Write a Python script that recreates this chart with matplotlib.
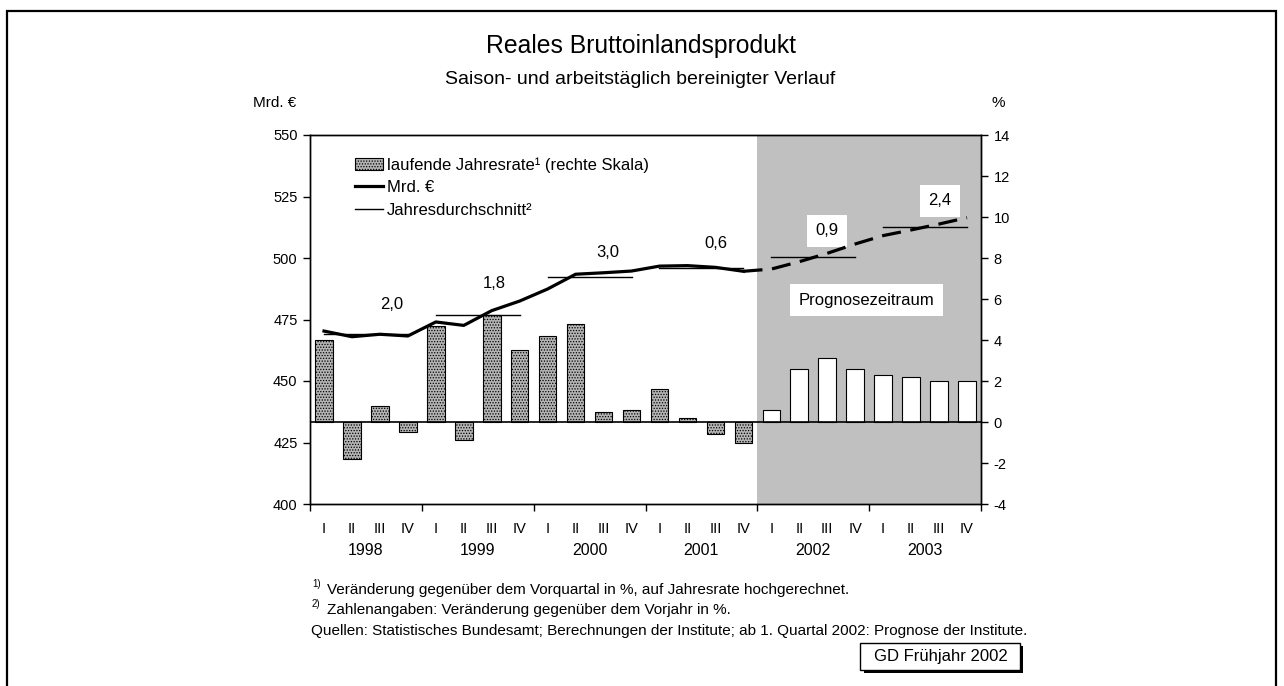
import numpy as np
import matplotlib.pyplot as plt
from matplotlib.patches import Rectangle, Patch
from matplotlib.lines import Line2D

plt.rcParams['font.family'] = ['Liberation Sans', 'DejaVu Sans']
plt.rcParams['hatch.linewidth'] = 0.6
plt.rcParams['axes.unicode_minus'] = False

quarters = ['I', 'II', 'III', 'IV'] * 6
years = ['1998', '1999', '2000', '2001', '2002', '2003']

# laufende Jahresrate in % (rechte Skala)
rate = [4.0, -1.8, 0.8, -0.5, 4.7, -0.9, 5.2, 3.5,
        4.2, 4.8, 0.5, 0.6, 1.6, 0.2, -0.6, -1.0,
        0.6, 2.6, 3.1, 2.6, 2.3, 2.2, 2.0, 2.0]
# Mrd. Euro
bip = [470.3, 468.0, 469.0, 468.3, 474.0, 472.6, 478.6, 482.5,
       487.4, 493.4, 494.0, 494.7, 496.7, 496.9, 496.2, 494.6,
       495.5, 498.5, 501.9, 505.7, 509.1, 511.4, 513.8, 516.4]
# Jahresdurchschnitt (Mrd. Euro) und Veraenderung gegenueber Vorjahr
year_avg = [469.0, 476.8, 492.4, 496.1, 500.6, 512.5]
year_chg = ['2,0', '1,8', '3,0', '0,6', '0,9', '2,4']
n_hist = 16

x = np.arange(len(rate))

fig = plt.figure(figsize=(12.84, 6.86), dpi=100)
ax = fig.add_axes([310/1284, 1-504/686, 671/1284, 369/686])
ax2 = ax.twinx()

# bars on the right scale
ax.axvspan(n_hist - 0.5, 23.5, color='#c0c0c0', lw=0, zorder=0)
ax.bar(x[:n_hist], rate[:n_hist], width=0.63, facecolor='#b4b4b4',
       edgecolor='black', hatch='......', lw=0.8, zorder=2)
ax.bar(x[n_hist:], rate[n_hist:], width=0.63, facecolor='white',
       edgecolor='black', lw=0.8, zorder=2)
ax.axhline(0, color='black', lw=1.2, zorder=3)
ax.set_ylim(-4, 14)
ax.set_yticks(range(-4, 15, 2))
ax.yaxis.tick_right()
ax.set_xlim(-0.5, 23.5)

# lines on the left scale
ax2.plot(x[:n_hist], bip[:n_hist], color='black', lw=2.3, zorder=4)
ax2.plot(x[n_hist-1:], bip[n_hist-1:], color='black', lw=2.3,
         dashes=(6, 3), zorder=4)
for i, v in enumerate(year_avg):
    ax2.plot([4*i, 4*i + 3], [v, v], color='black', lw=1, zorder=3)
ax2.set_ylim(400, 550)
ax2.set_yticks(range(400, 551, 25))
ax2.yaxis.tick_left()

lab_pos = [(2.42, 481.3), (6.1, 489.8), (10.16, 502.2), (14.03, 505.7),
           (18.0, 511.1), (22.04, 523.2)]
for i, (lx, ly) in enumerate(lab_pos):
    if i < 4:
        ax2.text(lx, ly, year_chg[i], ha='center', va='center', fontsize=12)
    else:
        ax2.text(lx, ly, year_chg[i], ha='center', va='center', fontsize=12,
                 bbox=dict(facecolor='white', edgecolor='none', pad=6))
ax2.text(19.41, 482.9, 'Prognosezeitraum', ha='center', va='center',
         fontsize=12, bbox=dict(facecolor='white', edgecolor='none', pad=6))

for a in (ax, ax2):
    a.tick_params(axis='y', length=5, width=1, labelsize=10.5, pad=4)
    for s in a.spines.values():
        s.set_linewidth(1)

ax.set_xticks(np.arange(-0.5, 24, 4))
ax.set_xticklabels([])
ax.tick_params(axis='x', length=5, width=1)
ax.set_xticks(x, minor=True)
ax.set_xticklabels(quarters, minor=True)
ax.tick_params(axis='x', which='minor', length=0, pad=13, labelsize=10.5)
for i, yr in enumerate(years):
    ax.text(4*i + 1.5, -0.127, yr, transform=ax.get_xaxis_transform(),
            ha='center', va='center', fontsize=11.5)

handles = [Patch(facecolor='#b4b4b4', edgecolor='black', hatch='......', lw=0.8),
           Line2D([], [], color='black', lw=2.3),
           Line2D([], [], color='black', lw=1)]
labels = ['laufende Jahresrate¹ (rechte Skala)', 'Mrd. €', 'Jahresdurchschnitt²']
ax2.legend(handles, labels, loc='upper left', bbox_to_anchor=(0.057, 0.958),
           frameon=False, fontsize=12, handlelength=1.7, handletextpad=0.2,
           labelspacing=0.45, borderaxespad=0)

W, H = 1284, 686
fig.text(641/W, 1-46/H, 'Reales Bruttoinlandsprodukt', ha='center', va='center', fontsize=17.8)
fig.text(640/W, 1-80/H, 'Saison- und arbeitstäglich bereinigter Verlauf', ha='center', va='center', fontsize=14)
fig.text(275/W, 1-103/H, 'Mrd. €', ha='center', va='center', fontsize=11)
fig.text(998/W, 1-103/H, '%', ha='center', va='center', fontsize=11)

fig.text(312/W, 1-584/H, '1)', ha='left', va='center', fontsize=7)
fig.text(327/W, 1-590/H, 'Veränderung gegenüber dem Vorquartal in %, auf Jahresrate hochgerechnet.',
         ha='left', va='center', fontsize=11)
fig.text(312/W, 1-604/H, '2)', ha='left', va='center', fontsize=7)
fig.text(327/W, 1-610/H, 'Zahlenangaben: Veränderung gegenüber dem Vorjahr in %.',
         ha='left', va='center', fontsize=11)
fig.text(311/W, 1-631/H, 'Quellen: Statistisches Bundesamt; Berechnungen der Institute; ab 1. Quartal 2002: Prognose der Institute.',
         ha='left', va='center', fontsize=11)

fig.add_artist(Rectangle((864/W, 1-673/H), 159/W, 27/H, transform=fig.transFigure,
                         facecolor='black', edgecolor='none'))
fig.add_artist(Rectangle((860/W, 1-670/H), 160/W, 27/H, transform=fig.transFigure,
                         facecolor='white', edgecolor='black', lw=1))
fig.text(941/W, 1-657/H, 'GD Frühjahr 2002', ha='center', va='center', fontsize=12)

fig.add_artist(Rectangle((7/W, -0.05), 1269/W, 1.05 - 11/H, transform=fig.transFigure,
                         facecolor='none', edgecolor='black', lw=1.6))

fig.savefig('out.png', dpi=100)
